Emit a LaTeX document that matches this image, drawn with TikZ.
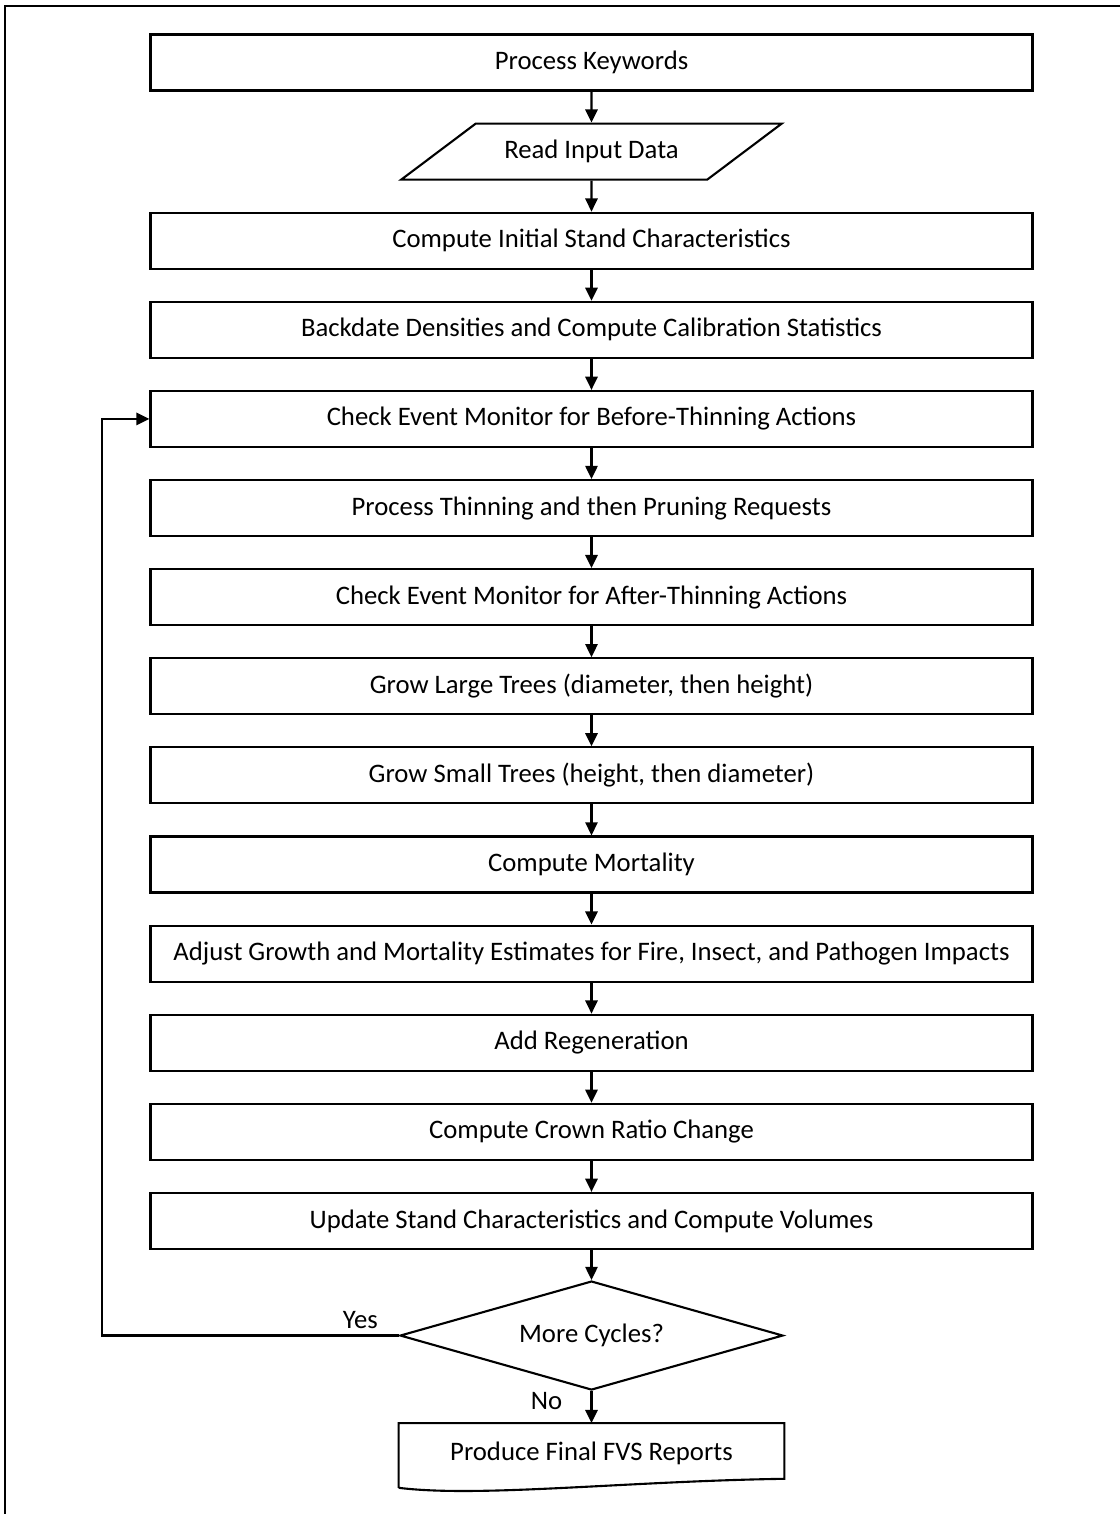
\documentclass[tikz,border=0pt]{standalone}
\usepackage{fontspec}
\setmainfont{Carlito}
\usetikzlibrary{%
    arrows.meta,
    positioning,
    shapes.geometric
}
\tikzset{headarrow/.style = {-{Triangle[length=7.5pt,width=7pt]}, line width=1.2pt}}
\tikzset{procbox/.style = {draw, line width=1.2pt, minimum width=17.64cm, minimum height=1.12cm,
                           font=\fontsize{15.2}{17}\selectfont}}

\begin{document}
\begin{tikzpicture}[node distance=0.62cm]
    \useasboundingbox (-11.83,1.25) rectangle (10.57,-29.03);
    % frame (only top and left edges show)
    \draw[line width=1.4pt] (10.6,1.13) -- (-11.73,1.13) -- (-11.73,-29.1);

    % main column
    \node[procbox] (keywords) at (0,0) {Process Keywords};
    \node[draw, line width=1.2pt, trapezium, trapezium left angle=30, trapezium right angle=150,
          trapezium stretches=true, minimum width=7.62cm, minimum height=1.12cm,
          font=\fontsize{15.2}{17}\selectfont] (readinput) [below=of keywords] {Read Input Data};
    \node[procbox] (initstand)   [below=of readinput]   {Compute Initial Stand Characteristics};
    \node[procbox] (backdate)    [below=of initstand]   {Backdate Densities and Compute Calibration Statistics};
    \node[procbox] (checkbefore) [below=of backdate]    {Check Event Monitor for Before-Thinning Actions};
    \node[procbox] (thinning)    [below=of checkbefore] {Process Thinning and then Pruning Requests};
    \node[procbox] (checkafter)  [below=of thinning]    {Check Event Monitor for After-Thinning Actions};
    \node[procbox] (growlarge)   [below=of checkafter]  {Grow Large Trees (diameter, then height)};
    \node[procbox] (growsmall)   [below=of growlarge]   {Grow Small Trees (height, then diameter)};
    \node[procbox] (mortality)   [below=of growsmall]   {Compute Mortality};
    \node[procbox] (adjust)      [below=of mortality]   {Adjust Growth and Mortality Estimates for Fire, Insect, and Pathogen Impacts};
    \node[procbox] (regen)       [below=of adjust]      {Add Regeneration};
    \node[procbox] (crown)       [below=of regen]       {Compute Crown Ratio Change};
    \node[procbox] (update)      [below=of crown]       {Update Stand Characteristics and Compute Volumes};

    % decision and end
    \node[draw, line width=1.2pt, diamond, aspect=3.6, inner sep=0pt, minimum width=7.66cm,
          minimum height=2.18cm, font=\fontsize{15.2}{17}\selectfont]
          (morecycles) [below=0.6cm of update] {More Cycles?};
    \node[minimum width=7.7cm, minimum height=1.2cm, font=\fontsize{15.2}{17}\selectfont]
          (reports) [below=0.64cm of morecycles] {Produce Final FVS Reports};
    \draw[line width=1.2pt] ([yshift=-0.08cm]reports.south west) -- (reports.north west)
        -- (reports.north east) -- ([yshift=0.1cm]reports.south east)
        .. controls +(-3.2,-0.05) and +(1.6,-0.2) .. ([yshift=-0.08cm]reports.south west);

    % edges
    \foreach \Source/\Target in {%
        keywords/readinput,
        readinput/initstand,
        initstand/backdate,
        backdate/checkbefore,
        checkbefore/thinning,
        thinning/checkafter,
        checkafter/growlarge,
        growlarge/growsmall,
        growsmall/mortality,
        mortality/adjust,
        adjust/regen,
        regen/crown,
        crown/update,
        update/morecycles%
        }
        \draw[headarrow] (\Source) -- (\Target);

    % loop back and exit
    \coordinate (loopx) at (-9.79,0);
    \draw[headarrow] (morecycles.west) -- node[above, pos=0.13, font=\fontsize{15.2}{17}\selectfont] {Yes}
        (morecycles.west -| loopx) |- (checkbefore.west);
    \draw[headarrow] (morecycles.south) -- node[left=0.45cm, pos=0.32, font=\fontsize{15.2}{17}\selectfont] {No}
        (reports.north);
\end{tikzpicture}
\end{document}
